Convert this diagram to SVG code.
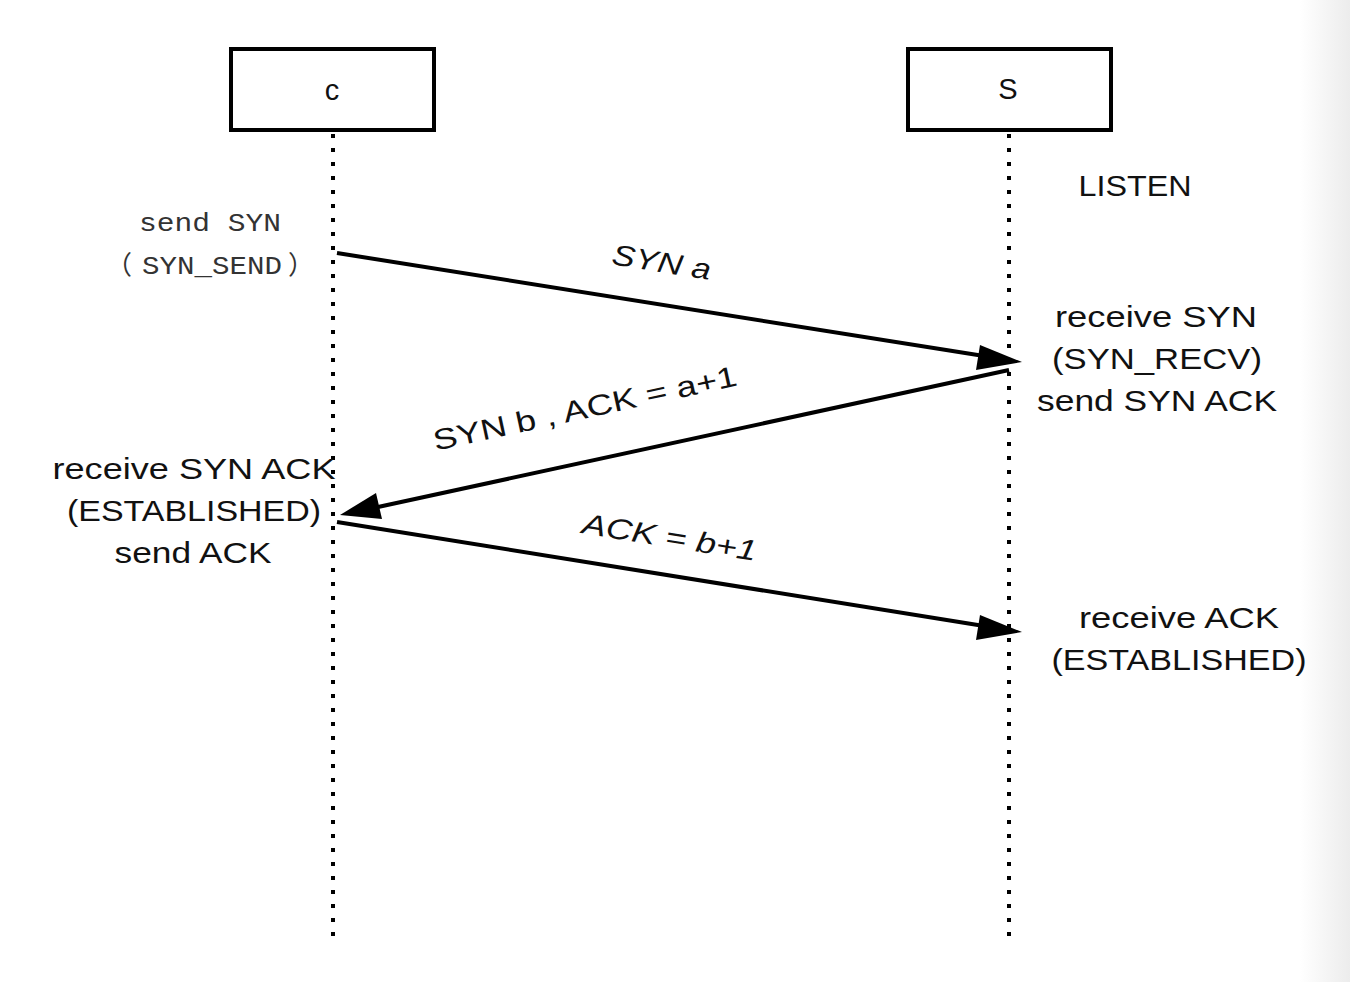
<svg xmlns="http://www.w3.org/2000/svg" width="1350" height="982" viewBox="0 0 1350 982">
<defs>
<linearGradient id="edge" x1="0" y1="0" x2="1" y2="0">
<stop offset="0" stop-color="#ffffff"/>
<stop offset="1" stop-color="#ececec"/>
</linearGradient>
</defs>
<style>
.box{fill:#fff;stroke:#000;stroke-width:4}
.life{stroke:#000;stroke-width:4;stroke-dasharray:4 10;fill:none}
.msg{stroke:#000;stroke-width:4;fill:none}
.t{font-family:"Liberation Sans",Arial,sans-serif;font-size:29px;fill:#111;text-anchor:middle}
.m{font-family:"Liberation Mono","Noto Sans CJK SC",monospace;font-size:26px;fill:#333}
.p{font-family:"Noto Sans CJK SC",sans-serif}
</style>
<rect width="1350" height="982" fill="#fff"/>
<rect x="1300" y="0" width="50" height="982" fill="url(#edge)"/>
<g id="lifelines">
<line class="life" x1="333" y1="134" x2="333" y2="942"/>
<line class="life" x1="1009" y1="134" x2="1009" y2="942"/>
</g>
<g id="node-c">
<rect class="box" x="231" y="49" width="203" height="81"/>
<text class="t" x="332" y="100" font-size="27">c</text>
</g>
<g id="node-s">
<rect class="box" x="908" y="49" width="203" height="81"/>
<text class="t" x="1008" y="99" font-size="27">S</text>
</g>
<g id="connectors">
<line class="msg" x1="337" y1="253" x2="984" y2="356"/>
<path d="M1022,362 L980,345 L976,370 Z" fill="#000"/>
<line class="msg" x1="1009" y1="370" x2="378" y2="507"/>
<path d="M340,515 L376,493 L382,519 Z" fill="#000"/>
<line class="msg" x1="337" y1="522" x2="984" y2="626"/>
<path d="M1022,632 L980,615 L976,640 Z" fill="#000"/>
</g>
<g id="labels">
<text class="t" transform="translate(660,272) rotate(9.1)" textLength="100" lengthAdjust="spacingAndGlyphs" font-style="italic">SYN a</text>
<text class="t" transform="translate(587,418) rotate(-12.2)" textLength="310" lengthAdjust="spacingAndGlyphs">SYN b , ACK = a+1</text>
<text class="t" transform="translate(668,547) rotate(9.1)" textLength="176" lengthAdjust="spacingAndGlyphs" font-style="italic">ACK = b+1</text>
<text class="t" x="1135" y="196" textLength="113" lengthAdjust="spacingAndGlyphs">LISTEN</text>
<text class="t" x="1156" y="327" textLength="202" lengthAdjust="spacingAndGlyphs">receive SYN</text>
<text class="t" x="1157" y="369" textLength="210" lengthAdjust="spacingAndGlyphs">(SYN_RECV)</text>
<text class="t" x="1157" y="411" textLength="240" lengthAdjust="spacingAndGlyphs">send SYN ACK</text>
<text class="t" x="1179" y="628" textLength="200" lengthAdjust="spacingAndGlyphs">receive ACK</text>
<text class="t" x="1179" y="670" textLength="255" lengthAdjust="spacingAndGlyphs">(ESTABLISHED)</text>
<text class="t" x="194" y="479" textLength="283" lengthAdjust="spacingAndGlyphs">receive SYN ACK</text>
<text class="t" x="194" y="521" textLength="254" lengthAdjust="spacingAndGlyphs">(ESTABLISHED)</text>
<text class="t" x="193" y="563" textLength="157" lengthAdjust="spacingAndGlyphs">send ACK</text>
<text class="m" x="139" y="231" textLength="142" lengthAdjust="spacingAndGlyphs">send SYN</text>
<text class="m" y="274"><tspan class="p" x="106">（</tspan><tspan x="142" textLength="140" lengthAdjust="spacingAndGlyphs">SYN_SEND</tspan><tspan class="p" x="288">）</tspan></text>
</g>
</svg>
